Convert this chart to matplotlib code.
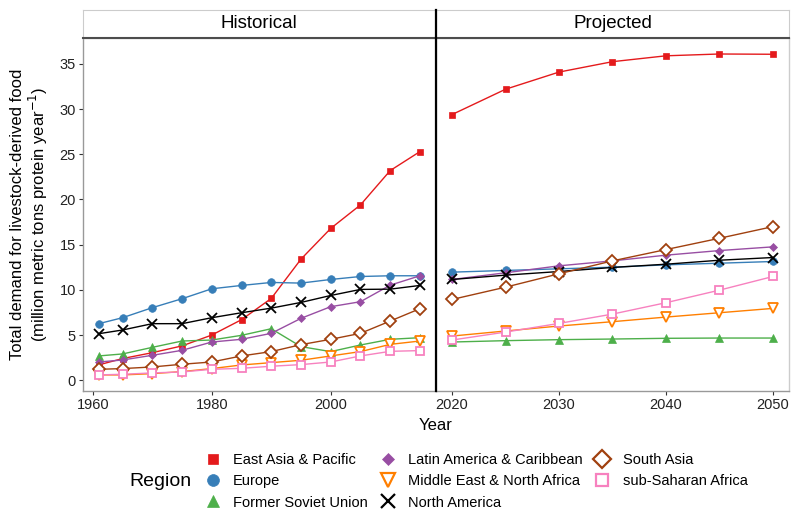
import matplotlib.pyplot as plt
from matplotlib.lines import Line2D

plt.rcParams['font.family'] = ['Liberation Sans', 'DejaVu Sans']

regions = ['East Asia & Pacific', 'Europe', 'Former Soviet Union',
           'Latin America & Caribbean', 'Middle East & North Africa',
           'North America', 'South Asia', 'sub-Saharan Africa']

years_hist = [1961, 1965, 1970, 1975, 1980, 1985, 1990, 1995, 2000, 2005, 2010, 2015]
years_proj = [2020, 2025, 2030, 2035, 2040, 2045, 2050]

hist = {
    'East Asia & Pacific': [1.7, 2.4, 3.05, 3.8, 5.0, 6.7, 9.05, 13.4, 16.8, 19.4, 23.2, 25.3],
    'Europe': [6.26, 6.92, 8.03, 9.02, 10.12, 10.49, 10.82, 10.75, 11.15, 11.48, 11.56, 11.56],
    'Former Soviet Union': [2.69, 2.91, 3.64, 4.34, 4.45, 4.97, 5.7, 3.72, 3.17, 3.9, 4.53, 4.71],
    'Latin America & Caribbean': [2.02, 2.24, 2.76, 3.31, 4.23, 4.53, 5.19, 6.85, 8.14, 8.69, 10.52, 11.56],
    'Middle East & North Africa': [0.59, 0.59, 0.73, 0.96, 1.29, 1.69, 1.95, 2.21, 2.69, 3.17, 3.97, 4.34],
    'North America': [5.15, 5.56, 6.26, 6.26, 6.92, 7.47, 7.98, 8.61, 9.38, 10.05, 10.08, 10.49],
    'South Asia': [1.21, 1.29, 1.47, 1.77, 2.02, 2.69, 3.17, 3.94, 4.53, 5.19, 6.55, 7.92],
    'sub-Saharan Africa': [0.59, 0.66, 0.81, 0.92, 1.21, 1.32, 1.55, 1.73, 2.02, 2.69, 3.2, 3.28],
}

proj = {
    'East Asia & Pacific': [29.4, 32.2, 34.1, 35.25, 35.9, 36.1, 36.07],
    'Europe': [11.96, 12.15, 12.33, 12.51, 12.77, 12.95, 13.14],
    'Former Soviet Union': [4.23, 4.38, 4.49, 4.56, 4.64, 4.67, 4.67],
    'Latin America & Caribbean': [11.15, 11.89, 12.66, 13.21, 13.84, 14.35, 14.76],
    'Middle East & North Africa': [4.89, 5.45, 6.0, 6.48, 6.99, 7.47, 7.95],
    'North America': [11.15, 11.63, 12.03, 12.48, 12.84, 13.28, 13.58],
    'South Asia': [8.94, 10.3, 11.78, 13.21, 14.46, 15.71, 17.0],
    'sub-Saharan Africa': [4.45, 5.33, 6.29, 7.32, 8.58, 9.97, 11.48],
}

colors = ['#E41A1C', '#377EB8', '#4DAF4A', '#984EA3', '#FF7F00', '#000000', '#A0400F', '#F781BF']
# marker, size, filled
styles = [('s', 5.0, True), ('o', 5.5, True), ('^', 6.0, True), ('D', 3.8, True),
          ('v', 6.5, False), ('x', 6.5, False), ('D', 5.8, False), ('s', 5.8, False)]

W, H = 800, 520
fig = plt.figure(figsize=(8, 5.2), dpi=100)


def rect(x0, y0, x1, y1):
    return [x0 / W, 1 - y1 / H, (x1 - x0) / W, (y1 - y0) / H]


axL = fig.add_axes(rect(82.7, 38, 436, 391))
axR = fig.add_axes(rect(436, 38, 789, 391), sharey=axL)


def draw(ax, years, data):
    for reg, col, (m, ms, filled) in zip(regions, colors, styles):
        kw = dict(marker=m, ms=ms, color=col, lw=1.0, mew=1.3 if not filled else 0.5)
        if not filled:
            kw['mfc'] = 'white' if m != 'x' else col
        ax.plot(years, data[reg], **kw)


draw(axL, years_hist, hist)
draw(axR, years_proj, proj)

axL.set_xlim(1958.3, 2017.7)
axR.set_xlim(2018.5, 2051.5)
axL.set_ylim(-1.19, 37.87)
axL.set_yticks(range(0, 36, 5))
axL.set_xticks([1960, 1980, 2000])
axR.set_xticks([2020, 2030, 2040, 2050])

for ax in (axL, axR):
    for s in ax.spines.values():
        s.set_color('#cccccc')
        s.set_linewidth(1.0)
    ax.spines['bottom'].set_color('#999999')
    ax.tick_params(length=3, width=0.8, color='#333333', labelsize=10.5,
                   labelcolor='#222222', pad=2)
axR.tick_params(axis='y', left=False, labelleft=False)
axL.spines['left'].set_color('#999999')

# facet strips
for x0, x1, label in [(82.7, 436, 'Historical'), (436, 789, 'Projected')]:
    sax = fig.add_axes(rect(x0, 10, x1, 38))
    sax.set_xticks([])
    sax.set_yticks([])
    for s in sax.spines.values():
        s.set_color('#cccccc')
    sax.spines['bottom'].set_color('#4d4d4d')
    sax.spines['bottom'].set_linewidth(1.5)
    sax.text(0.5, 0.5, label, ha='center', va='center', fontsize=13.5,
             transform=sax.transAxes)

# divider between panels
fig.add_artist(Line2D([436 / W, 436 / W], [1 - 10 / H, 1 - 391 / H],
                      color='black', lw=1.6, transform=fig.transFigure))

fig.text(436 / W, 1 - 425 / H, 'Year', ha='center', va='center', fontsize=12)
fig.text(18 / W, 1 - 214 / H, 'Total demand for livestock-derived food',
         rotation=90, ha='center', va='center', fontsize=12)
fig.text(38 / W, 1 - 214 / H, '(million metric tons protein year$^{-1}$)',
         rotation=90, ha='center', va='center', fontsize=12)

handles = []
for reg, col, (m, ms, filled) in zip(regions, colors, styles):
    handles.append(Line2D([], [], ls='none', marker=m, ms=ms * 1.55, color=col,
                          mfc=col if (filled or m == 'x') else 'white',
                          mew=1.6 if not filled else 0.5))
fig.text(160 / W, 1 - 482 / H, 'Region', ha='center', va='center', fontsize=14)
fig.legend(handles, regions, ncol=3, loc='upper left',
           bbox_to_anchor=(204 / W, 1 - 453 / H), frameon=False, fontsize=10.5,
           handlelength=1.2, handletextpad=0.8, columnspacing=0.75, labelspacing=0.5,
           borderaxespad=0, borderpad=0)

fig.savefig('out.png', dpi=100)
